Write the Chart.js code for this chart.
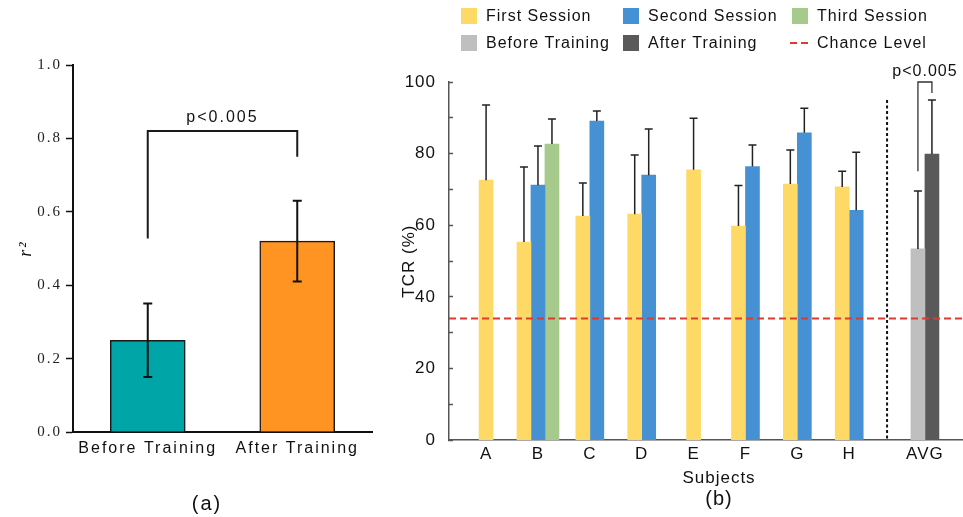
<!DOCTYPE html>
<html>
<head>
<meta charset="utf-8">
<script src="https://cdn.jsdelivr.net/npm/chart.js@4.4.1/dist/chart.umd.min.js"></script>
<style>
  html, body { margin: 0; padding: 0; background: #fff; width: 963px; height: 517px; overflow: hidden; }
  #wrap { position: relative; width: 963px; height: 517px; overflow: hidden; }
  #fitChart { position: absolute; left: 0; top: 0; }
  #tcrChart { position: absolute; left: 395px; top: 0; }
</style>
</head>
<body>
<div id="wrap">
  <canvas id="fitChart" width="414" height="517"></canvas>
  <canvas id="tcrChart" width="648" height="517"></canvas>
</div>
<script>
// ---------- (a) r^2 before / after training ----------
const fitLabels = ['Before Training', 'After Training'];
const fitMeans  = [0.25, 0.52];
const fitSD     = [0.10, 0.11];
const fitPText  = 'p<0.005';

// ---------- (b) TCR per subject ----------
const subjects       = ['A', 'B', 'C', 'D', 'E', 'F', 'G', 'H', 'AVG'];
const firstSession   = [72.6, 55.3, 62.6, 63.1, 75.5, 59.8, 71.5, 70.7, null];
const firstSD        = [21.0, 21.0,  9.2, 16.5, 14.4, 11.3,  9.5,  4.4, null];
const secondSession  = [null, 71.2, 89.1, 74.0, null, 76.4, 85.8, 64.2, null];
const secondSD       = [null, 10.9,  2.8, 12.9, null,  6.0,  6.9, 16.2, null];
const thirdSession   = [null, 82.7, null, null, null, null, null, null, null];
const thirdSD        = [null,  7.0, null, null, null, null, null, null, null];
const beforeTraining = [null, null, null, null, null, null, null, null, 53.4];
const beforeSD       = [null, null, null, null, null, null, null, null, 16.2];
const afterTraining  = [null, null, null, null, null, null, null, null, 79.9];
const afterSD        = [null, null, null, null, null, null, null, null, 15.1];
const chanceLevel    = 34;
const tcrPText       = 'p<0.005';

const SANS  = "'Liberation Sans', Arial, sans-serif";
const SERIF = "'Liberation Serif', 'Times New Roman', serif";

// subject slots on the x axis; the AVG group sits a little further out
const avgGap = 1.46;
const xPos = subjects.map((s, i) => (i < subjects.length - 1 ? i : i - 1 + avgGap));
const xMin = -0.715, xMax = 10.736;
const toPoints = vals => vals.map((v, i) => ({ x: xPos[i], y: v }));

// widen glyph spacing a little for every text drawn on a chart
const letterSpacing = px => ({
  id: 'letterSpacing',
  beforeUpdate(chart) { chart.ctx.letterSpacing = px + 'px'; },
  beforeDraw(chart) { chart.ctx.letterSpacing = px + 'px'; }
});

// mean +/- SD whiskers read from dataset.errorBars
const errorBarPlugin = {
  id: 'errorBars',
  afterDatasetsDraw(chart, args, o) {
    const { ctx } = chart;
    const ys = chart.scales.y;
    chart.data.datasets.forEach((ds, di) => {
      if (!ds.errorBars) return;
      const meta = chart.getDatasetMeta(di);
      meta.data.forEach((bar, i) => {
        const parsed = meta.controller.getParsed(i);
        const v = parsed ? parsed.y : null;
        const e = ds.errorBars[i];
        if (v === null || v === undefined || e === null || e === undefined) return;
        const yTop = ys.getPixelForValue(v + e);
        const yBot = o.both ? ys.getPixelForValue(v - e) : ys.getPixelForValue(v);
        ctx.save();
        ctx.strokeStyle = o.color;
        ctx.lineWidth = o.width;
        ctx.beginPath();
        ctx.moveTo(bar.x, yBot);
        ctx.lineTo(bar.x, yTop);
        ctx.moveTo(bar.x - o.cap / 2, yTop);
        ctx.lineTo(bar.x + o.cap / 2, yTop);
        if (o.both) {
          ctx.moveTo(bar.x - o.cap / 2, yBot);
          ctx.lineTo(bar.x + o.cap / 2, yBot);
        }
        ctx.stroke();
        ctx.restore();
      });
    });
  }
};

// significance bracket between two bars
const bracketPlugin = {
  id: 'sigBracket',
  afterDatasetsDraw(chart, args, o) {
    const { ctx } = chart;
    const ys = chart.scales.y;
    const xl = chart.getDatasetMeta(o.leftDs).data[o.leftIdx].x;
    const xr = chart.getDatasetMeta(o.rightDs).data[o.rightIdx].x;
    const yTop = ys.getPixelForValue(o.top);
    ctx.save();
    ctx.strokeStyle = o.color;
    ctx.lineWidth = o.width;
    ctx.beginPath();
    ctx.moveTo(xl, ys.getPixelForValue(o.leftFrom));
    ctx.lineTo(xl, yTop);
    ctx.lineTo(xr, yTop);
    ctx.lineTo(xr, ys.getPixelForValue(o.rightFrom));
    ctx.stroke();
    ctx.font = o.fontSize + 'px ' + SANS;
    ctx.fillStyle = o.textColor;
    ctx.textAlign = 'center';
    ctx.textBaseline = 'alphabetic';
    ctx.fillText(o.text, (xl + xr) / 2, yTop - o.gap);
    ctx.restore();
  }
};

// dotted divider between the subjects and the average group
const dividerPlugin = {
  id: 'divider',
  afterDatasetsDraw(chart, args, o) {
    const { ctx } = chart;
    const xs = chart.scales.x, ys = chart.scales.y;
    const x = xs.getPixelForValue((xPos[subjects.length - 2] + xPos[subjects.length - 1]) / 2);
    ctx.save();
    ctx.strokeStyle = o.color;
    ctx.lineWidth = o.width;
    ctx.setLineDash(o.dash);
    ctx.beginPath();
    ctx.moveTo(x, ys.getPixelForValue(o.top));
    ctx.lineTo(x, ys.getPixelForValue(0));
    ctx.stroke();
    ctx.restore();
  }
};

// legend laid out as a fixed grid of columns
const gridLegend = {
  id: 'gridLegend',
  afterDraw(chart, args, o) {
    const { ctx } = chart;
    ctx.save();
    ctx.font = o.fontSize + 'px ' + SANS;
    ctx.textBaseline = 'middle';
    ctx.textAlign = 'left';
    chart.data.datasets.forEach((ds, i) => {
      const x = o.colX[i % o.colX.length];
      const y = o.rowY[Math.floor(i / o.colX.length)];
      if (ds.type === 'line') {
        ctx.strokeStyle = ds.borderColor;
        ctx.lineWidth = ds.borderWidth;
        ctx.setLineDash(ds.borderDash);
        ctx.beginPath();
        ctx.moveTo(x - 2, y);
        ctx.lineTo(x + 18, y);
        ctx.stroke();
        ctx.setLineDash([]);
      } else {
        ctx.fillStyle = ds.backgroundColor;
        ctx.fillRect(x, y - o.box / 2, o.box, o.box);
      }
      ctx.fillStyle = o.color;
      ctx.fillText(ds.label, x + o.textOffset, y + 1);
    });
    ctx.restore();
  }
};

// ---------- chart (a) ----------
new Chart(document.getElementById('fitChart'), {
  type: 'bar',
  data: {
    labels: fitLabels,
    datasets: [{
      data: fitMeans,
      errorBars: fitSD,
      backgroundColor: ['#00A5A8', '#FF9422'],
      borderColor: '#1a1a1a',
      borderWidth: 1.5,
      barThickness: 75
    }]
  },
  options: {
    responsive: false,
    animation: false,
    events: [],
    layout: { padding: { top: 65, right: 0, left: 0, bottom: 0 } },
    plugins: {
      legend: { display: false },
      tooltip: { enabled: false },
      title: {
        display: true, text: '(a)', position: 'bottom', color: '#111',
        font: { family: SANS, size: 20, weight: 'normal', lineHeight: 1 },
        padding: { top: 28, bottom: 3 }
      },
      errorBars: { both: true, cap: 9, width: 2, color: '#111' },
      sigBracket: {
        leftDs: 0, leftIdx: 0, rightDs: 0, rightIdx: 1,
        leftFrom: 0.527, rightFrom: 0.75, top: 0.82,
        text: fitPText, fontSize: 16, gap: 9,
        color: '#1a1a1a', textColor: '#111', width: 2
      }
    },
    scales: {
      x: {
        grid: { display: false, drawTicks: false },
        border: { color: '#111', width: 2 },
        ticks: { color: '#111', padding: 7.4, font: { family: SANS, size: 16 } }
      },
      y: {
        min: 0, max: 1,
        afterFit: s => { s.width = 73; },
        ticks: {
          stepSize: 0.2,
          callback: v => Number(v).toFixed(1),
          color: '#222', padding: 4,
          font: { family: SERIF, size: 15 }
        },
        grid: { drawOnChartArea: false, drawTicks: true, tickLength: 7, tickColor: '#111', tickWidth: 1.5 },
        border: { color: '#111', width: 2 },
        title: {
          display: true, text: 'r²', color: '#111',
          font: { family: SERIF, size: 18, style: 'italic' },
          padding: { top: 15.2, bottom: 0 }
        }
      },
      // empty margin on the right so the caption centres under the whole panel
      yMargin: {
        position: 'right', display: true,
        afterFit: s => { s.width = 42; },
        grid: { display: false, drawTicks: false },
        border: { display: false },
        ticks: { display: false }
      }
    }
  },
  plugins: [letterSpacing(2), errorBarPlugin, bracketPlugin]
});

// ---------- chart (b) ----------
const barOpts = { barThickness: 14, grouped: true, skipNull: true, borderWidth: 0 };
new Chart(document.getElementById('tcrChart'), {
  type: 'bar',
  data: {
    datasets: [
      Object.assign({ label: 'First Session',   data: toPoints(firstSession),   errorBars: firstSD,  backgroundColor: '#FFD966' }, barOpts),
      Object.assign({ label: 'Second Session',  data: toPoints(secondSession),  errorBars: secondSD, backgroundColor: '#4690D4' }, barOpts),
      Object.assign({ label: 'Third Session',   data: toPoints(thirdSession),   errorBars: thirdSD,  backgroundColor: '#A6C98C' }, barOpts),
      Object.assign({ label: 'Before Training', data: toPoints(beforeTraining), errorBars: beforeSD, backgroundColor: '#BFBFBF' }, barOpts),
      Object.assign({ label: 'After Training',  data: toPoints(afterTraining),  errorBars: afterSD,  backgroundColor: '#595959' }, barOpts),
      {
        type: 'line', label: 'Chance Level',
        data: [{ x: xMin, y: chanceLevel }, { x: xMax, y: chanceLevel }],
        borderColor: '#DC3B30', borderWidth: 2, borderDash: [7, 4],
        pointRadius: 0, fill: false, order: -1
      }
    ]
  },
  options: {
    responsive: false,
    animation: false,
    events: [],
    layout: { padding: { top: 82, right: 0, left: 0, bottom: 0 } },
    plugins: {
      legend: { display: false },
      tooltip: { enabled: false },
      subtitle: {
        display: true, text: 'Subjects', position: 'bottom', color: '#111',
        font: { family: SANS, size: 17, weight: 'normal', lineHeight: 1.2 },
        padding: { top: 0, bottom: 0 }
      },
      title: {
        display: true, text: '(b)', position: 'bottom', color: '#111',
        font: { family: SANS, size: 20, weight: 'normal', lineHeight: 1 },
        padding: { top: 0, bottom: 8 }
      },
      errorBars: { both: false, cap: 8, width: 1.5, color: '#222' },
      sigBracket: {
        leftDs: 3, leftIdx: 8, rightDs: 4, rightIdx: 8,
        leftFrom: 75.1, rightFrom: 96.9, top: 100,
        text: tcrPText, fontSize: 16, gap: 6.5,
        color: '#333', textColor: '#111', width: 1.3
      },
      divider: { top: 95, color: '#111', width: 2, dash: [3, 2.5] },
      gridLegend: {
        colX: [66, 228, 397], rowY: [16, 43], box: 16, textOffset: 25,
        fontSize: 16, color: '#111'
      }
    },
    scales: {
      x: {
        type: 'linear', min: xMin, max: xMax, offset: false,
        afterBuildTicks: s => { s.ticks = xPos.map(v => ({ value: v })); },
        grid: { display: false, drawTicks: false, offset: false },
        border: { color: '#555', width: 1.5 },
        ticks: {
          autoSkip: false, maxRotation: 0, minRotation: 0,
          callback: (v, i) => subjects[i],
          color: '#111', padding: 4, font: { family: SANS, size: 17 }
        }
      },
      y: {
        min: 0, max: 100,
        afterFit: s => { s.width = 54; },
        ticks: {
          stepSize: 10,
          callback: v => (v % 20 === 0 ? String(v) : ''),
          color: '#111', padding: 17, font: { family: SANS, size: 17 }
        },
        grid: { drawOnChartArea: false, drawTicks: true, tickLength: -4, tickColor: '#555', tickWidth: 1.5 },
        border: { color: '#555', width: 1.5 },
        title: {
          display: true, text: 'TCR (%)', color: '#111',
          font: { family: SANS, size: 17 }, padding: { top: 4, bottom: 0 }
        }
      }
    }
  },
  plugins: [letterSpacing(1), errorBarPlugin, bracketPlugin, dividerPlugin, gridLegend]
});
</script>
</body>
</html>
